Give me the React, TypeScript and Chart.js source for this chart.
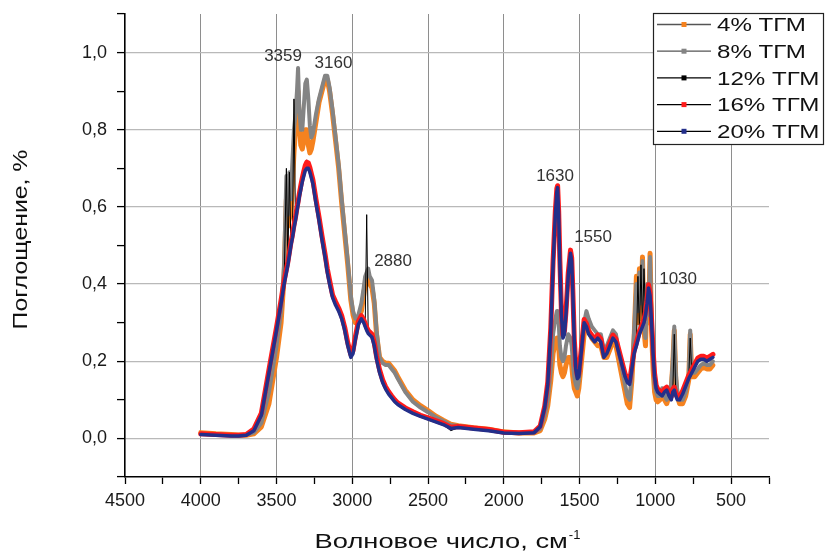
import React, { useEffect, useRef } from 'react';
import { Chart, registerables } from 'chart.js';

Chart.register(...registerables);

// Wavenumbers (cm^-1), descending
const wavenumbers = [
  4000, 3900, 3800, 3750, 3700, 3650, 3600, 3550, 3500, 3470,
  3450, 3435, 3425, 3415, 3405, 3395, 3385, 3375, 3365, 3358,
  3350, 3340, 3330, 3320, 3310, 3300, 3290, 3280, 3270, 3260,
  3240, 3220, 3200, 3180, 3165, 3150, 3130, 3110, 3090, 3070,
  3050, 3030, 3010, 2995, 2980, 2960, 2940, 2925, 2915, 2905,
  2895, 2885, 2870, 2855, 2840, 2820, 2800, 2780, 2760, 2740,
  2720, 2700, 2650, 2600, 2550, 2500, 2450, 2400, 2350, 2300,
  2200, 2100, 2000, 1900, 1800, 1760, 1730, 1710, 1690, 1675,
  1660, 1650, 1645, 1638, 1630, 1620, 1610, 1600, 1590, 1575,
  1560, 1552, 1545, 1535, 1525, 1515, 1505, 1490, 1470, 1455,
  1440, 1420, 1400, 1380, 1360, 1340, 1320, 1300, 1280, 1260,
  1240, 1220, 1200, 1185, 1170, 1155, 1140, 1125, 1115, 1105,
  1095, 1085, 1075, 1065, 1055, 1045, 1035, 1025, 1015, 1005,
  995, 985, 970, 955, 940, 925, 910, 895, 885, 875,
  865, 855, 840, 820, 800, 780, 770, 760, 740, 720,
  700, 680, 660, 640, 620,
];

const tgm4 = [
  0.015, 0.012, 0.010, 0.009, 0.008, 0.012, 0.030, 0.090, 0.210, 0.300,
  0.420, 0.620, 0.550, 0.570, 0.580, 0.660, 0.740, 0.800, 0.860, 0.900,
  0.820, 0.760, 0.750, 0.770, 0.800, 0.800, 0.760, 0.740, 0.750, 0.770,
  0.820, 0.870, 0.900, 0.930, 0.930, 0.900, 0.840, 0.770, 0.700, 0.610,
  0.530, 0.450, 0.360, 0.320, 0.300, 0.310, 0.330, 0.370, 0.400, 0.410,
  0.420, 0.400, 0.390, 0.350, 0.270, 0.210, 0.200, 0.195, 0.195, 0.185,
  0.175, 0.160, 0.125, 0.100, 0.085, 0.072, 0.058, 0.047, 0.037, 0.033,
  0.028, 0.024, 0.017, 0.014, 0.014, 0.020, 0.050, 0.085, 0.150, 0.220,
  0.250, 0.260, 0.260, 0.240, 0.190, 0.170, 0.160, 0.170, 0.190, 0.210,
  0.210, 0.190, 0.160, 0.130, 0.120, 0.110, 0.130, 0.190, 0.270, 0.300,
  0.280, 0.260, 0.250, 0.240, 0.240, 0.210, 0.210, 0.230, 0.250, 0.240,
  0.200, 0.160, 0.120, 0.090, 0.080, 0.150, 0.260, 0.420, 0.300, 0.440,
  0.310, 0.470, 0.280, 0.240, 0.380, 0.300, 0.480, 0.280, 0.180, 0.120,
  0.100, 0.095, 0.100, 0.120, 0.100, 0.090, 0.110, 0.130, 0.190, 0.280,
  0.150, 0.110, 0.090, 0.090, 0.110, 0.150, 0.270, 0.160, 0.160, 0.170,
  0.180, 0.185, 0.180, 0.180, 0.190,
];

const tgm8 = [
  0.012, 0.010, 0.008, 0.008, 0.009, 0.015, 0.040, 0.120, 0.240, 0.330,
  0.450, 0.680, 0.580, 0.690, 0.620, 0.720, 0.800, 0.840, 0.900, 0.960,
  0.860, 0.800, 0.800, 0.860, 0.920, 0.930, 0.880, 0.810, 0.780, 0.790,
  0.840, 0.880, 0.910, 0.940, 0.940, 0.910, 0.850, 0.780, 0.710, 0.620,
  0.540, 0.460, 0.370, 0.330, 0.310, 0.320, 0.350, 0.390, 0.420, 0.430,
  0.440, 0.420, 0.410, 0.360, 0.280, 0.210, 0.195, 0.190, 0.190, 0.180,
  0.170, 0.155, 0.120, 0.095, 0.080, 0.068, 0.055, 0.045, 0.035, 0.032,
  0.027, 0.023, 0.016, 0.014, 0.015, 0.025, 0.060, 0.100, 0.180, 0.270,
  0.310, 0.330, 0.330, 0.300, 0.240, 0.210, 0.200, 0.210, 0.240, 0.270,
  0.260, 0.240, 0.200, 0.160, 0.140, 0.130, 0.150, 0.220, 0.300, 0.330,
  0.310, 0.290, 0.280, 0.270, 0.270, 0.230, 0.240, 0.260, 0.280, 0.270,
  0.220, 0.180, 0.140, 0.110, 0.100, 0.170, 0.280, 0.400, 0.330, 0.430,
  0.350, 0.460, 0.300, 0.260, 0.400, 0.320, 0.470, 0.300, 0.200, 0.140,
  0.120, 0.110, 0.110, 0.130, 0.110, 0.100, 0.120, 0.140, 0.200, 0.290,
  0.170, 0.120, 0.100, 0.100, 0.120, 0.160, 0.280, 0.170, 0.170, 0.180,
  0.190, 0.195, 0.190, 0.190, 0.200,
];

const tgm12 = [
  0.010, 0.008, 0.006, 0.006, 0.008, 0.020, 0.060, 0.170, 0.280, 0.350,
  0.400, 0.700, 0.450, 0.690, 0.500, 0.520, 0.880, 0.565, 0.590, 0.605,
  0.625, 0.645, 0.665, 0.680, 0.700, 0.722, 0.705, 0.690, 0.675, 0.660,
  0.610, 0.565, 0.515, 0.470, 0.430, 0.400, 0.365, 0.345, 0.330, 0.310,
  0.280, 0.240, 0.210, 0.220, 0.255, 0.295, 0.310, 0.300, 0.290, 0.580,
  0.272, 0.268, 0.262, 0.240, 0.205, 0.170, 0.145, 0.128, 0.115, 0.105,
  0.095, 0.088, 0.075, 0.065, 0.057, 0.050, 0.043, 0.036, 0.020, 0.028,
  0.024, 0.020, 0.014, 0.013, 0.015, 0.030, 0.080, 0.140, 0.280, 0.450,
  0.580, 0.640, 0.655, 0.590, 0.450, 0.320, 0.260, 0.270, 0.320, 0.420,
  0.480, 0.460, 0.380, 0.250, 0.180, 0.155, 0.160, 0.220, 0.300, 0.290,
  0.270, 0.260, 0.250, 0.260, 0.250, 0.210, 0.220, 0.240, 0.260, 0.250,
  0.220, 0.190, 0.160, 0.145, 0.140, 0.180, 0.220, 0.240, 0.420, 0.270,
  0.450, 0.290, 0.440, 0.320, 0.350, 0.390, 0.370, 0.300, 0.220, 0.160,
  0.130, 0.120, 0.115, 0.110, 0.120, 0.125, 0.110, 0.100, 0.120, 0.270,
  0.110, 0.100, 0.100, 0.115, 0.135, 0.155, 0.260, 0.170, 0.185, 0.200,
  0.205, 0.205, 0.200, 0.205, 0.210,
];

const tgm16 = [
  0.012, 0.010, 0.008, 0.008, 0.010, 0.024, 0.066, 0.178, 0.288, 0.358,
  0.408, 0.438, 0.458, 0.483, 0.508, 0.528, 0.553, 0.573, 0.598, 0.613,
  0.633, 0.655, 0.675, 0.692, 0.708, 0.716, 0.714, 0.702, 0.686, 0.670,
  0.620, 0.575, 0.525, 0.478, 0.440, 0.410, 0.372, 0.354, 0.338, 0.318,
  0.288, 0.248, 0.218, 0.228, 0.263, 0.303, 0.318, 0.308, 0.298, 0.288,
  0.280, 0.276, 0.270, 0.248, 0.213, 0.178, 0.152, 0.134, 0.121, 0.110,
  0.100, 0.092, 0.079, 0.069, 0.060, 0.053, 0.046, 0.039, 0.029, 0.031,
  0.027, 0.023, 0.016, 0.015, 0.017, 0.032, 0.084, 0.146, 0.288, 0.458,
  0.590, 0.648, 0.655, 0.590, 0.460, 0.330, 0.268, 0.278, 0.328, 0.428,
  0.488, 0.468, 0.388, 0.258, 0.188, 0.163, 0.168, 0.228, 0.308, 0.298,
  0.278, 0.268, 0.258, 0.268, 0.258, 0.218, 0.228, 0.248, 0.268, 0.258,
  0.228, 0.198, 0.168, 0.153, 0.148, 0.188, 0.228, 0.248, 0.263, 0.278,
  0.288, 0.298, 0.308, 0.328, 0.358, 0.398, 0.378, 0.308, 0.228, 0.168,
  0.138, 0.128, 0.123, 0.118, 0.128, 0.133, 0.118, 0.108, 0.128, 0.133,
  0.118, 0.108, 0.108, 0.123, 0.143, 0.163, 0.170, 0.178, 0.193, 0.208,
  0.213, 0.213, 0.208, 0.213, 0.218,
];

const tgm20 = [
  0.010, 0.008, 0.006, 0.006, 0.008, 0.020, 0.060, 0.170, 0.280, 0.350,
  0.400, 0.430, 0.450, 0.475, 0.500, 0.520, 0.545, 0.565, 0.590, 0.605,
  0.625, 0.645, 0.665, 0.680, 0.695, 0.700, 0.700, 0.690, 0.675, 0.660,
  0.610, 0.565, 0.515, 0.470, 0.430, 0.400, 0.365, 0.345, 0.330, 0.310,
  0.280, 0.240, 0.210, 0.220, 0.255, 0.295, 0.310, 0.300, 0.290, 0.280,
  0.272, 0.268, 0.262, 0.240, 0.205, 0.170, 0.145, 0.128, 0.115, 0.105,
  0.095, 0.088, 0.075, 0.065, 0.057, 0.050, 0.043, 0.036, 0.026, 0.028,
  0.024, 0.020, 0.014, 0.013, 0.015, 0.030, 0.080, 0.140, 0.280, 0.450,
  0.580, 0.640, 0.650, 0.580, 0.450, 0.320, 0.260, 0.270, 0.320, 0.420,
  0.480, 0.460, 0.380, 0.250, 0.180, 0.155, 0.160, 0.220, 0.300, 0.290,
  0.270, 0.260, 0.250, 0.260, 0.250, 0.210, 0.220, 0.240, 0.260, 0.250,
  0.220, 0.190, 0.160, 0.145, 0.140, 0.180, 0.220, 0.240, 0.255, 0.270,
  0.280, 0.290, 0.300, 0.320, 0.350, 0.390, 0.370, 0.300, 0.220, 0.160,
  0.130, 0.120, 0.115, 0.110, 0.120, 0.125, 0.110, 0.100, 0.120, 0.125,
  0.110, 0.100, 0.100, 0.115, 0.135, 0.155, 0.162, 0.170, 0.185, 0.200,
  0.205, 0.205, 0.200, 0.205, 0.210,
];

const seriesLabels = ['4% ТГМ', '8% ТГМ', '12% ТГМ', '16% ТГМ', '20% ТГМ'];
const seriesValues = [tgm4, tgm8, tgm12, tgm16, tgm20];
const seriesColors = ['#f5821f', '#848484', '#000000', '#ff1a1a', '#232f8a'];
const seriesWidths = [5, 4, 1, 5, 3.5];
const legendLineColors = ['#555555', '#555555', '#000000', '#000000', '#000000'];

const peakLabels = ['3359', '3160', '2880', '1630', '1550', '1030'];
const peakLabelX = [3457, 3124, 2731, 1662, 1411, 850];
const peakLabelY = [0.99, 0.973, 0.459, 0.679, 0.522, 0.412];

const xTitle = 'Волновое число, см';
const xTitleSup = '-1';
const yTitle = 'Поглощение, %';

const FONT = '"Liberation Sans", Arial, Helvetica, sans-serif';

const overlayPlugin = {
  id: 'overlay',
  afterDatasetsDraw(chart: any) {
    const ctx = chart.ctx;
    const xs = chart.scales.x;
    const ys = chart.scales.y;
    ctx.save();
    ctx.font = `17px ${FONT}`;
    ctx.fillStyle = '#333333';
    ctx.textAlign = 'center';
    ctx.textBaseline = 'middle';
    peakLabels.forEach((t, i) => {
      ctx.fillText(t, xs.getPixelForValue(peakLabelX[i]), ys.getPixelForValue(peakLabelY[i]));
    });
    ctx.restore();
  },
  afterDraw(chart: any) {
    const ctx = chart.ctx;
    const area = chart.chartArea;
    // Y axis title
    ctx.save();
    ctx.fillStyle = '#111111';
    ctx.font = `20px ${FONT}`;
    ctx.translate(27, (area.top + area.bottom) / 2 - 6);
    ctx.rotate(-Math.PI / 2);
    ctx.scale(1.24, 1);
    ctx.textAlign = 'center';
    ctx.textBaseline = 'alphabetic';
    ctx.fillText(yTitle, 0, 0);
    ctx.restore();

    // X axis title with superscript
    ctx.save();
    ctx.fillStyle = '#111111';
    ctx.font = `21px ${FONT}`;
    const sx = 1.3;
    const mainW = ctx.measureText(xTitle).width * sx;
    ctx.font = `13px ${FONT}`;
    const supW = ctx.measureText(xTitleSup).width;
    const total = mainW + supW;
    const cx = (area.left + area.right) / 2;
    const left = cx - total / 2;
    ctx.textAlign = 'left';
    ctx.textBaseline = 'alphabetic';
    ctx.save();
    ctx.font = `21px ${FONT}`;
    ctx.translate(left, 548);
    ctx.scale(sx, 1);
    ctx.fillText(xTitle, 0, 0);
    ctx.restore();
    ctx.font = `13px ${FONT}`;
    ctx.fillText(xTitleSup, left + mainW + 1, 539);
    ctx.restore();

    // Legend box
    const lx = 653;
    const ly = 13;
    const lw = 171;
    const lh = 132;
    ctx.save();
    ctx.fillStyle = '#ffffff';
    ctx.fillRect(lx, ly, lw, lh);
    ctx.strokeStyle = '#222222';
    ctx.lineWidth = 1.2;
    ctx.strokeRect(lx + 0.5, ly + 0.5, lw - 1, lh - 1);
    seriesLabels.forEach((label, i) => {
      const cy = 24.5 + i * 26.7;
      ctx.strokeStyle = legendLineColors[i];
      ctx.lineWidth = 1.3;
      ctx.beginPath();
      ctx.moveTo(657, cy);
      ctx.lineTo(711, cy);
      ctx.stroke();
      ctx.fillStyle = seriesColors[i];
      ctx.fillRect(681.5, cy - 2.5, 5, 5);
      ctx.save();
      ctx.fillStyle = '#111111';
      ctx.font = `19px ${FONT}`;
      ctx.textAlign = 'left';
      ctx.textBaseline = 'alphabetic';
      ctx.translate(717, cy + 6.8);
      ctx.scale(1.27, 1);
      ctx.fillText(label, 0, 0);
      ctx.restore();
    });
    ctx.restore();
  },
};

export default function App() {
  const canvasRef = useRef<HTMLCanvasElement | null>(null);

  useEffect(() => {
    const canvas = canvasRef.current;
    if (!canvas) return;
    Chart.defaults.font.family = FONT;

    const order = [5, 4, 3, 2, 1];
    const datasets = seriesLabels.map((label, i) => ({
      label,
      data: wavenumbers.map((x, j) => ({ x, y: seriesValues[i][j] })),
      borderColor: seriesColors[i],
      backgroundColor: seriesColors[i],
      borderWidth: seriesWidths[i],
      pointRadius: 0,
      borderJoinStyle: 'round' as const,
      borderCapStyle: 'round' as const,
      fill: false,
      tension: 0,
      order: order[i],
    }));

    const chart = new Chart(canvas, {
      type: 'line',
      data: { datasets },
      options: {
        animation: false,
        responsive: true,
        maintainAspectRatio: false,
        layout: { padding: { top: 14, right: 56, left: 0, bottom: 0 } },
        plugins: {
          legend: { display: false },
          tooltip: { enabled: false },
          title: { display: false },
        },
        scales: {
          x: {
            type: 'linear',
            reverse: true,
            min: 250,
            max: 4500,
            afterFit: (s: any) => {
              s.height = 74;
              s.paddingLeft = 0;
              s.paddingRight = 0;
            },
            ticks: {
              stepSize: 250,
              autoSkip: false,
              maxRotation: 0,
              minRotation: 0,
              padding: 6,
              color: '#1a1a1a',
              font: { size: 18, family: FONT },
              callback: (v: any) => (Number(v) % 500 === 0 ? String(v) : ''),
            },
            grid: {
              color: (c: any) => {
                const v = c.tick ? c.tick.value : 0;
                return v % 500 === 0 && v >= 500 && v <= 4000 ? '#8e8e8e' : 'rgba(0,0,0,0)';
              },
              lineWidth: 1,
              tickColor: '#000000',
              tickLength: 7,
              tickWidth: 1.3,
            },
            border: { display: true, color: '#000000', width: 1.6 },
          },
          y: {
            type: 'linear',
            min: -0.1,
            max: 1.1,
            afterFit: (s: any) => {
              s.width = 125;
              s.paddingTop = 0;
              s.paddingBottom = 0;
            },
            ticks: {
              stepSize: 0.1,
              autoSkip: false,
              padding: 10,
              color: '#1a1a1a',
              font: { size: 18, family: FONT },
              callback: (v: any) => {
                const t = Math.round(Number(v) * 10);
                if (t % 2 === 0 && t >= 0 && t <= 10) return (t / 10).toFixed(1).replace('.', ',');
                return '';
              },
            },
            grid: {
              color: (c: any) => {
                const v = c.tick ? c.tick.value : 0;
                const t = Math.round(v * 10);
                return t % 2 === 0 && t >= 0 && t <= 10 ? '#b9b9b9' : 'rgba(0,0,0,0)';
              },
              lineWidth: 1.2,
              tickColor: '#000000',
              tickLength: 8,
              tickWidth: 1.3,
            },
            border: { display: true, color: '#000000', width: 1.6 },
          },
        },
      },
      plugins: [overlayPlugin],
    });

    return () => {
      chart.destroy();
    };
  }, []);

  return (
    <div style={{ position: 'absolute', left: 0, top: 0, width: 825, height: 551, background: '#ffffff' }}>
      <canvas ref={canvasRef} />
    </div>
  );
}
